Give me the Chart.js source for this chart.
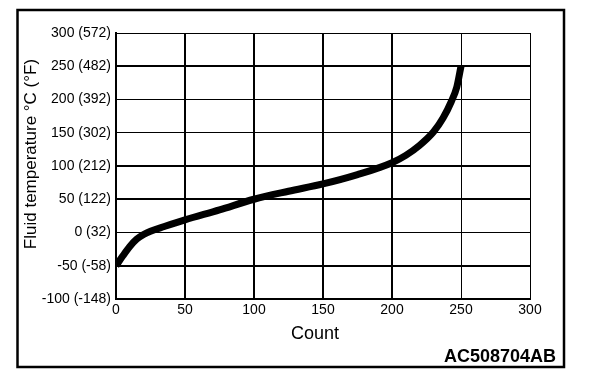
<!DOCTYPE html>
<html>
<head>
<meta charset="utf-8">
<script src="https://cdn.jsdelivr.net/npm/chart.js@4"></script>
<style>
  html, body { margin: 0; padding: 0; background: #fff; }
  canvas { display: block; }
</style>
</head>
<body>
<canvas id="myChart" width="608" height="392"></canvas>
<script>
// sensor curve
var counts = [0, 5, 10, 15, 20, 25, 35, 50, 75, 100, 125, 150, 175, 200, 210, 220, 230, 237, 243, 247, 250];
var temps = [-50, -35, -21, -10, -3, 2, 9, 19, 34, 50, 62, 73, 87, 105, 116, 131, 151, 172, 197, 219, 250];

var yTickValues = [-100, -50, 0, 50, 100, 150, 200, 250, 300];
var yTickLabels = ['-100 (-148)', '-50 (-58)', '0 (32)', '50 (122)', '100 (212)', '150 (302)', '200 (392)', '250 (482)', '300 (572)'];
var xTickValues = [0, 50, 100, 150, 200, 250, 300];
var xTickLabels = ['0', '50', '100', '150', '200', '250', '300'];

var FONT = '"Liberation Sans", Arial, Helvetica, sans-serif';

var points = counts.map(function (c, i) { return { x: c, y: temps[i] }; });

// the scan has some grid lines heavier than others
var thickX = [50, 100, 150, 200];
var thickY = [250, 100, 50, -50];

var frame = {
    id: 'frame',
    beforeDraw: function (chart) {
        var c = chart.ctx;
        c.save();
        c.fillStyle = '#fff';
        c.fillRect(0, 0, chart.width, chart.height);
        c.restore();
    },
    afterDraw: function (chart) {
        var c = chart.ctx;
        c.save();
        c.strokeStyle = '#000';
        c.lineWidth = 2.5;
        c.strokeRect(17.5, 10, 546.5, 357);

        c.fillStyle = '#000';
        c.textAlign = 'center';
        c.textBaseline = 'middle';
        c.font = '18px ' + FONT;
        c.fillText('Count', 315, 334);

        c.save();
        c.translate(31, 154);
        c.rotate(-Math.PI / 2);
        c.font = '17px ' + FONT;
        c.fillText('Fluid temperature \u00B0C (\u00B0F)', 0, 0);
        c.restore();

        c.font = 'bold 18px ' + FONT;
        c.textAlign = 'right';
        c.textBaseline = 'alphabetic';
        c.fillText('AC508704AB', 556, 362);
        c.restore();
    }
};

var ctx = document.getElementById('myChart').getContext('2d');
var myChart = new Chart(ctx, {
    type: 'scatter',
    data: {
        datasets: [{
            label: 'Fluid temperature',
            data: points,
            showLine: true,
            borderColor: '#000',
            backgroundColor: '#000',
            borderWidth: 7,
            pointRadius: 0,
            cubicInterpolationMode: 'monotone'
        }]
    },
    options: {
        responsive: false,
        animation: false,
        layout: {
            padding: { left: 16, right: 78, top: 33, bottom: 73 }
        },
        plugins: {
            legend: { display: false },
            tooltip: { enabled: false }
        },
        scales: {
            x: {
                type: 'linear',
                min: 0,
                max: 300,
                afterFit: function (scale) { scale.height = 20; },
                afterBuildTicks: function (scale) {
                    scale.ticks = xTickValues.map(function (v) { return { value: v }; });
                },
                ticks: {
                    color: '#000',
                    padding: 3,
                    maxRotation: 0,
                    font: { family: FONT, size: 14 },
                    callback: function (v) { return xTickLabels[xTickValues.indexOf(v)]; }
                },
                grid: {
                    color: '#000',
                    drawTicks: false,
                    lineWidth: function (c) {
                        return c.tick && thickX.indexOf(c.tick.value) >= 0 ? 2 : 1;
                    }
                },
                border: { color: '#000', width: 2 }
            },
            y: {
                type: 'linear',
                min: -100,
                max: 300,
                afterFit: function (scale) { scale.width = 100; },
                afterBuildTicks: function (scale) {
                    scale.ticks = yTickValues.map(function (v) { return { value: v }; });
                },
                ticks: {
                    color: '#000',
                    padding: 5,
                    font: { family: FONT, size: 14 },
                    callback: function (v) { return yTickLabels[yTickValues.indexOf(v)]; }
                },
                grid: {
                    color: '#000',
                    drawTicks: false,
                    lineWidth: function (c) {
                        return c.tick && thickY.indexOf(c.tick.value) >= 0 ? 2 : 1;
                    }
                },
                border: { color: '#000', width: 2 }
            }
        }
    },
    plugins: [frame]
});
</script>
</body>
</html>
